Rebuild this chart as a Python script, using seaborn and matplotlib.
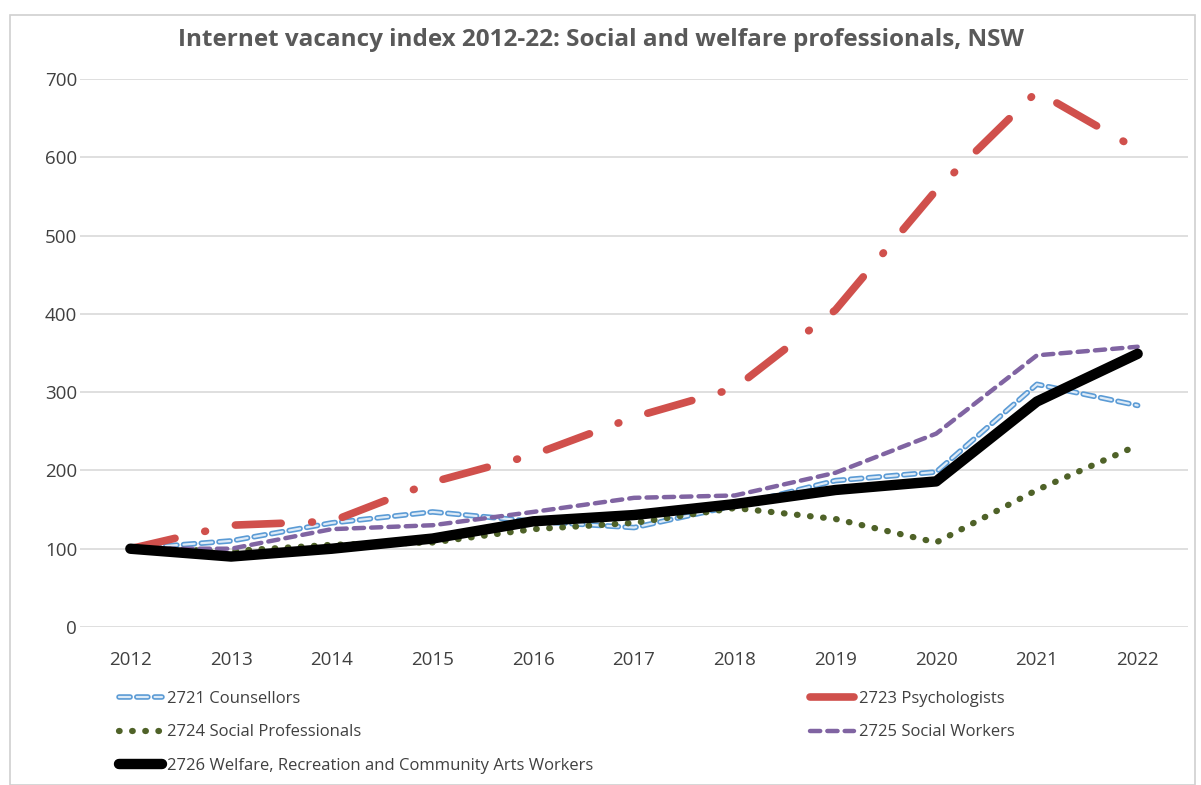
import matplotlib
matplotlib.use("Agg")
import matplotlib.pyplot as plt
import matplotlib.patheffects as pe
from matplotlib.patches import Rectangle
import seaborn as sns
import pandas as pd

years = [2012, 2013, 2014, 2015, 2016, 2017, 2018, 2019, 2020, 2021, 2022]
counsellors = [100, 110, 133, 147, 135, 127, 155, 187, 198, 310, 283]
psychologists = [100, 130, 135, 185, 220, 268, 305, 405, 558, 684, 610]
social_prof = [100, 97, 105, 108, 125, 133, 152, 138, 108, 175, 232]
social_workers = [100, 100, 125, 130, 147, 165, 168, 197, 247, 347, 358]
welfare = [100, 90, 100, 113, 135, 143, 157, 175, 186, 288, 349]

labels = ["2721 Counsellors", "2723 Psychologists", "2724 Social Professionals",
          "2725 Social Workers", "2726 Welfare, Recreation and Community Arts Workers"]
title = "Internet vacancy index 2012-22: Social and welfare professionals, NSW"
yticks = [0, 100, 200, 300, 400, 500, 600, 700]

sns.set_theme(style="white")
plt.rcParams['font.family'] = ['Open Sans', 'DejaVu Sans']

fig = plt.figure(figsize=(12.01, 7.85), dpi=100)
ax = fig.add_axes([80/1201, 1-627/785, 1108/1201, 548/785])

fig.patches.append(Rectangle((10/1201, 0), 1185/1201, 1-15/785, transform=fig.transFigure,
                             fill=False, edgecolor='#D0D0D0', linewidth=1.2))

styles = {
    labels[0]: dict(color='#DEEBF7', lw=1.6, dashes=(5, 3),
                    pe=[pe.Stroke(linewidth=4.0, foreground='#5B9BD5'), pe.Normal()]),
    labels[1]: dict(color='#D0504C', lw=5.5, dashes=(6, 4, 0.1, 4), pe=None),
    labels[2]: dict(color='#4F6228', lw=4.5, dashes=(0.1, 2.0), pe=None),
    labels[3]: dict(color='#8064A2', lw=3.2, dashes=(2.3, 1.6), pe=None),
    labels[4]: dict(color='#000000', lw=7.5, dashes=None, pe=None),
}
series = [counsellors, psychologists, social_prof, social_workers, welfare]
handles = {}
for lab, vals in zip(labels, series):
    st = styles[lab]
    df = pd.DataFrame({"year": years, "value": vals})
    sns.lineplot(data=df, x="year", y="value", ax=ax, color=st['color'], linewidth=st['lw'])
    line = ax.lines[-1]
    line.set_solid_capstyle('round')
    line.set_dash_capstyle('round')
    line.set_solid_joinstyle('round')
    if st['dashes'] is not None:
        line.set_dashes(st['dashes'])
    if st['pe'] is not None:
        line.set_path_effects(st['pe'])
    handles[lab] = line

ax.set_xlim(2011.5, 2022.5)
ax.set_ylim(0, 700)
ax.set_xticks(years)
ax.set_xticklabels([str(y) for y in years])
ax.set_yticks(yticks)
ax.tick_params(axis='both', labelsize=13.5, colors='#404040', length=0)
ax.tick_params(axis='x', pad=17)
ax.tick_params(axis='y', pad=2)
ax.grid(axis='y', color='#D9D9D9', linewidth=1.2)
ax.set_axisbelow(True)
for s in ax.spines.values():
    s.set_visible(False)
ax.set_xlabel("")
ax.set_ylabel("")

fig.text(0.5, 1-40/785, title, ha='center', va='center', fontsize=17.5,
         fontweight='bold', color='#595959')

order = [labels[0], labels[2], labels[4], labels[1], labels[3]]
leg = fig.legend([handles[l] for l in order], order, ncol=2, frameon=False,
                 loc='upper left', bbox_to_anchor=(104/1201, 1-676/785),
                 fontsize=12, handlelength=2.6, handletextpad=0.3,
                 columnspacing=13.0, labelspacing=1.05, labelcolor='#404040')

fig.savefig("out.png", dpi=100)
